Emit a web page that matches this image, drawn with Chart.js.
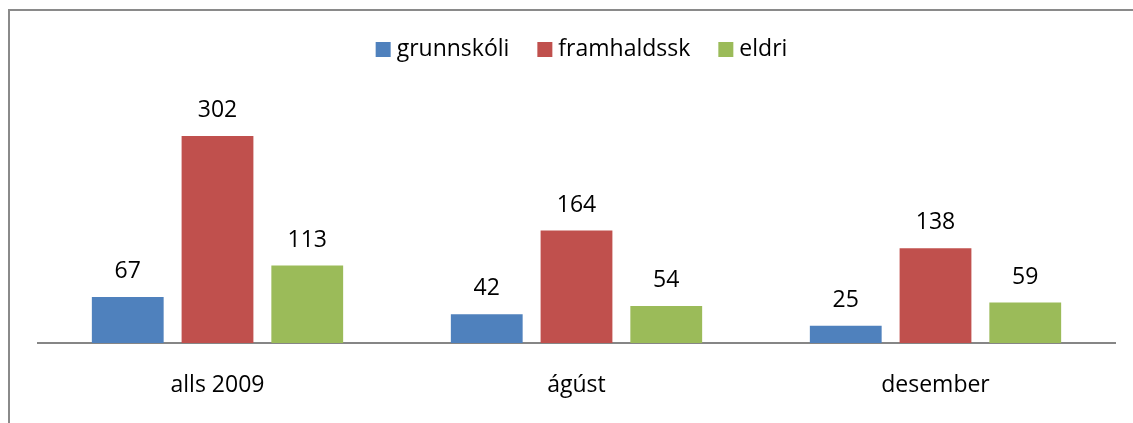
<!DOCTYPE html>
<html>
<head>
<meta charset="utf-8">
<script src="https://cdn.jsdelivr.net/npm/chart.js@4/dist/chart.umd.min.js"></script>
<style>
  html, body { margin: 0; padding: 0; background: #fff; }
  #wrap { position: relative; width: 1133px; height: 423px; overflow: hidden; }
  #frame { position: absolute; left: 8px; top: 9px; width: 1200px; height: 500px;
           border-left: 2px solid #8a8a8a; border-top: 2px solid #8a8a8a; }
  #chart { position: absolute; left: 0; top: 0; }
</style>
</head>
<body>
<div id="wrap">
  <div id="frame"></div>
  <canvas id="chart" width="1133" height="423"></canvas>
</div>
<script>
const categories = ['alls 2009', 'ágúst', 'desember'];
const seriesNames = ['grunnskóli', 'framhaldssk', 'eldri'];
const grunnskoli = [67, 42, 25];
const framhaldssk = [302, 164, 138];
const eldri = [113, 54, 59];
const seriesColors = ['#4f81bd', '#c0504d', '#9bbb59'];

const fontFamily = "'Open Sans', 'Noto Sans', sans-serif";
const fontSize = 23;

// values drawn above each bar
const valueLabels = {
    id: 'valueLabels',
    afterDatasetsDraw(chart) {
        const ctx = chart.ctx;
        ctx.save();
        ctx.font = fontSize + 'px ' + fontFamily;
        ctx.fillStyle = '#000';
        ctx.textAlign = 'center';
        ctx.textBaseline = 'alphabetic';
        chart.data.datasets.forEach((ds, i) => {
            chart.getDatasetMeta(i).data.forEach((bar, j) => {
                ctx.fillText(ds.data[j], bar.x, bar.y - 19);
            });
        });
        ctx.restore();
    }
};

// legend in the Excel style: small square, tight gap to the text
const topLegend = {
    id: 'topLegend',
    afterDraw(chart) {
        const ctx = chart.ctx;
        const box = 15, gap = 6, itemGap = 28;
        ctx.save();
        ctx.font = fontSize + 'px ' + fontFamily;
        const items = chart.data.datasets.map(ds => ({
            label: ds.label,
            color: ds.backgroundColor,
            w: box + gap + ctx.measureText(ds.label).width
        }));
        const total = items.reduce((s, it) => s + it.w, 0) + itemGap * (items.length - 1);
        let x = 581.5 - total / 2;
        const cy = 49.5;
        items.forEach(it => {
            ctx.fillStyle = it.color;
            ctx.fillRect(x, cy - box / 2, box, box);
            ctx.fillStyle = '#000';
            ctx.textAlign = 'left';
            ctx.textBaseline = 'middle';
            ctx.fillText(it.label, x + box + gap, cy);
            x += it.w + itemGap;
        });
        ctx.restore();
    }
};

const ctx = document.getElementById('chart').getContext('2d');
new Chart(ctx, {
    type: 'bar',
    data: {
        labels: categories,
        datasets: [grunnskoli, framhaldssk, eldri].map((values, i) => ({
            label: seriesNames[i],
            data: values,
            backgroundColor: seriesColors[i],
            borderWidth: 0,
            categoryPercentage: 0.75,
            barPercentage: 0.8
        }))
    },
    options: {
        responsive: false,
        animation: false,
        devicePixelRatio: 1,
        layout: { padding: { left: 38, right: 18, top: 103, bottom: 0 } },
        plugins: {
            legend: { display: false },
            tooltip: { enabled: false }
        },
        scales: {
            x: {
                grid: { display: false, drawTicks: false },
                border: { display: true, color: '#868686', width: 2 },
                ticks: {
                    color: '#000',
                    font: { family: fontFamily, size: fontSize },
                    padding: 29
                },
                afterFit(scale) { scale.height = 80; }
            },
            y: {
                display: false,
                min: 0,
                max: 350
            }
        }
    },
    plugins: [valueLabels, topLegend]
});
</script>
</body>
</html>
